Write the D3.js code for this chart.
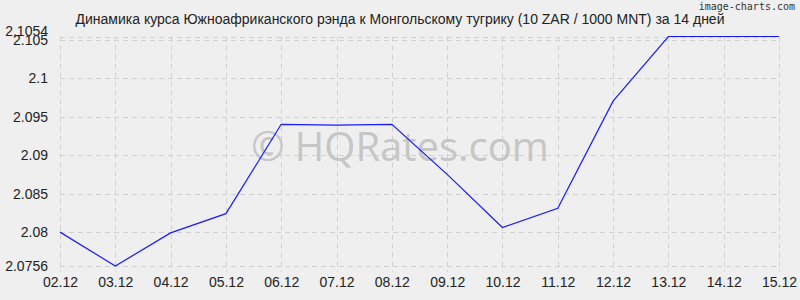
<!DOCTYPE html>
<html>
<head>
<meta charset="utf-8">
<script src="https://cdn.jsdelivr.net/npm/d3@7"></script>
<style>
  body { margin: 0; background: #efefef; }
  svg { display: block; }
</style>
</head>
<body>
<div class="chart"></div>
<script>
// data
const dates = ["02.12","03.12","04.12","05.12","06.12","07.12","08.12","09.12","10.12","11.12","12.12","13.12","14.12","15.12"];
const rates = [2.0800, 2.0756, 2.0799, 2.0824, 2.0940, 2.0939, 2.0940, 2.0875, 2.0806, 2.0831, 2.0970, 2.1054, 2.1054, 2.1054];
const yTicks = [2.0756, 2.08, 2.085, 2.09, 2.095, 2.1, 2.105, 2.1054];
const title = "Динамика курса Южноафриканского рэнда к Монгольскому тугрику (10 ZAR / 1000 MNT) за 14 дней";

const width = 800, height = 300;
const margin = {top: 36.5, right: 21, bottom: 34, left: 60};

const svg = d3.select(".chart").append("svg")
    .attr("width", width)
    .attr("height", height);

svg.append("rect").attr("width", width).attr("height", height).attr("fill", "#efefef");

const x = d3.scalePoint()
    .domain(dates)
    .range([margin.left, width - margin.right]);
const y = d3.scaleLinear()
    .domain([d3.min(rates), d3.max(rates)])
    .range([height - margin.bottom, margin.top]);

// grid
svg.append("g")
    .selectAll("line.h")
    .data(yTicks)
    .enter().append("line")
        .attr("x1", margin.left).attr("x2", width - margin.right)
        .attr("y1", d => Math.round(y(d)) + 0.5).attr("y2", d => Math.round(y(d)) + 0.5)
        .attr("stroke", "#d0d0d0")
        .attr("stroke-dasharray", "5,4");
svg.append("g")
    .selectAll("line.v")
    .data(dates)
    .enter().append("line")
        .attr("x1", d => Math.round(x(d)) + 0.5).attr("x2", d => Math.round(x(d)) + 0.5)
        .attr("y1", margin.top).attr("y2", height - margin.bottom + 6)
        .attr("stroke", "#d0d0d0")
        .attr("stroke-dasharray", "5,4");

// watermark
svg.append("text")
    .attr("x", 400).attr("y", 161)
    .attr("text-anchor", "middle")
    .attr("font-family", "Open Sans, sans-serif")
    .attr("font-size", 40)
    .attr("fill", "#c6c6c6")
    .text("© HQRates.com");

// axes labels
const yAxis = d3.axisLeft(y).tickValues(yTicks).tickSize(0).tickPadding(12).tickFormat(d => String(d));
const gy = svg.append("g")
    .attr("transform", "translate(" + margin.left + ",0)")
    .call(yAxis);
gy.select(".domain").remove();
gy.selectAll("text").attr("font-family", "Liberation Sans, Arial, sans-serif").attr("font-size", 14).attr("fill", "#222");
// the max label sits a touch higher than 2.105, as in the original
gy.selectAll(".tick").filter(d => d === d3.max(yTicks)).select("text").attr("dy", "-0.05em");

const xAxis = d3.axisBottom(x).tickSize(0).tickPadding(11);
const gx = svg.append("g")
    .attr("transform", "translate(0," + (height - margin.bottom) + ")")
    .call(xAxis);
gx.select(".domain").remove();
gx.selectAll("text").attr("font-family", "Liberation Sans, Arial, sans-serif").attr("font-size", 14).attr("fill", "#222");

// line
svg.append("path")
    .datum(rates)
    .attr("fill", "none")
    .attr("stroke", "#1a1aff")
    .attr("stroke-width", 1.2)
    .attr("d", d3.line().x((d, i) => x(dates[i])).y(d => y(d)));

// title
svg.append("text")
    .attr("x", 400).attr("y", 24)
    .attr("text-anchor", "middle")
    .attr("font-family", "Liberation Sans, Arial, sans-serif")
    .attr("font-size", 14)
    .attr("fill", "#222")
    .text(title);

svg.append("text")
    .attr("x", 795).attr("y", 10)
    .attr("text-anchor", "end")
    .attr("font-family", "DejaVu Sans Mono, monospace")
    .attr("font-size", 10)
    .attr("fill", "#333")
    .text("image-charts.com");
</script>
</body>
</html>
